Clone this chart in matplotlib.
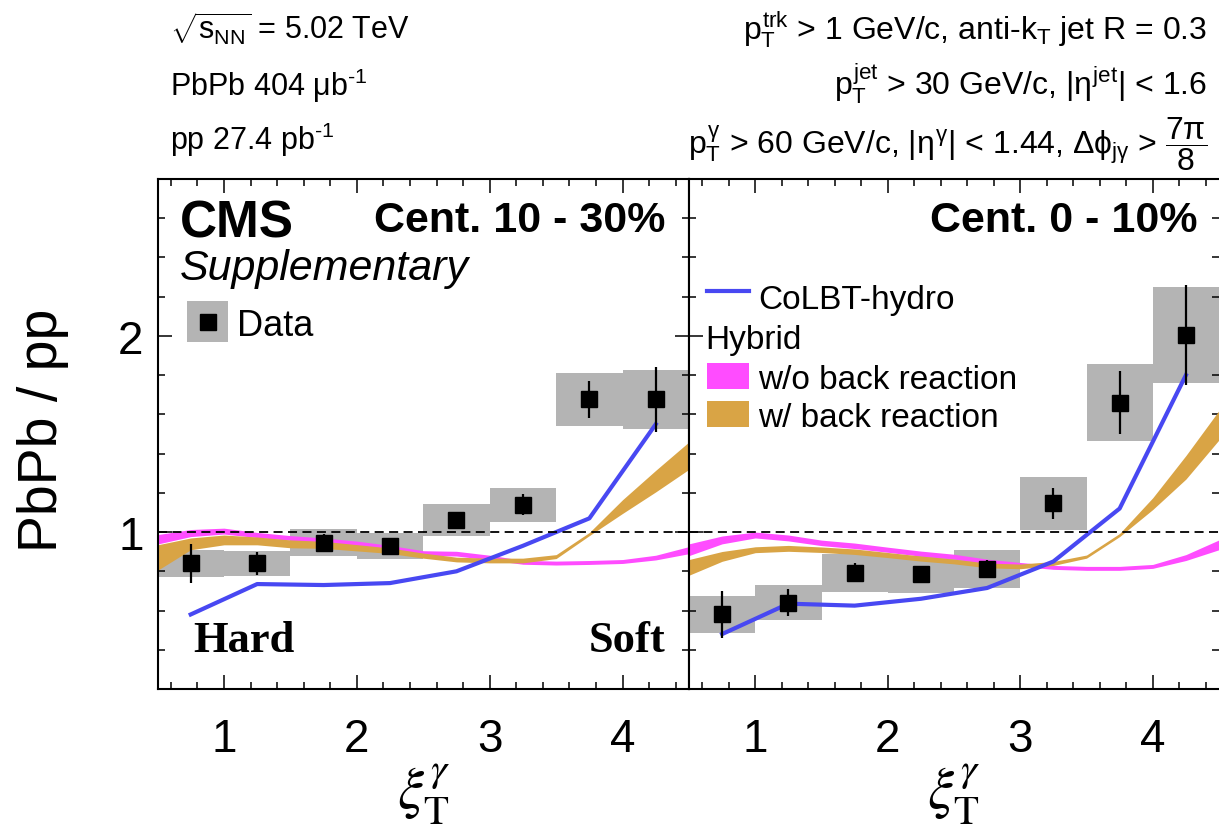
import matplotlib
matplotlib.use("Agg")
import matplotlib.pyplot as plt
from matplotlib.ticker import MultipleLocator
from matplotlib.patches import Rectangle

plt.rcParams['font.family'] = ['Liberation Sans', 'DejaVu Sans']
plt.rcParams['mathtext.fontset'] = 'custom'
plt.rcParams['mathtext.rm'] = 'Liberation Sans'
plt.rcParams['mathtext.it'] = 'Liberation Sans'
plt.rcParams['mathtext.bf'] = 'Liberation Sans:bold'

# bin centres of the measurement (bins are 0.5 wide)
xi_bins = [0.75, 1.25, 1.75, 2.25, 2.75, 3.25, 3.75, 4.25]

# Cent. 10-30%
data_1030 = [0.84, 0.84, 0.946, 0.929, 1.061, 1.139, 1.676, 1.676]
stat_1030 = [0.10, 0.06, 0.044, 0.03, 0.04, 0.053, 0.096, 0.165]
sys_1030 = [0.067, 0.066, 0.07, 0.064, 0.08, 0.088, 0.133, 0.15]
colbt_1030 = [0.58, 0.735, 0.73, 0.74, 0.80, 0.93, 1.07, 1.55]

# Cent. 0-10%
data_010 = [0.581, 0.640, 0.793, 0.784, 0.813, 1.146, 1.659, 2.005]
stat_010 = [0.119, 0.068, 0.049, 0.044, 0.047, 0.077, 0.16, 0.255]
sys_010 = [0.094, 0.089, 0.096, 0.094, 0.098, 0.136, 0.196, 0.245]
colbt_010 = [0.48, 0.635, 0.625, 0.66, 0.715, 0.85, 1.12, 1.80]

# Hybrid model bands (centre, half width)
xi_hyb = [0.5, 0.75, 1.0, 1.25, 1.5, 1.75, 2.0, 2.25, 2.5, 2.75, 3.0, 3.25, 3.5, 3.75, 4.0, 4.25, 4.5]
wo_1030 = [0.963, 0.995, 1.005, 0.985, 0.97, 0.958, 0.942, 0.92, 0.893, 0.89, 0.87, 0.846, 0.842, 0.845, 0.85, 0.87, 0.908]
wo_1030_w = [0.024, 0.018, 0.015, 0.013, 0.012, 0.012, 0.012, 0.012, 0.012, 0.012, 0.012, 0.01, 0.01, 0.01, 0.01, 0.012, 0.018]
w_1030 = [0.87, 0.94, 0.96, 0.955, 0.94, 0.935, 0.92, 0.905, 0.88, 0.86, 0.855, 0.855, 0.875, 0.99, 1.13, 1.26, 1.39]
w_1030_w = [0.065, 0.03, 0.025, 0.02, 0.02, 0.018, 0.016, 0.014, 0.013, 0.012, 0.012, 0.012, 0.01, 0.008, 0.035, 0.055, 0.07]

wo_010 = [0.91, 0.96, 0.985, 0.97, 0.945, 0.93, 0.91, 0.89, 0.875, 0.85, 0.835, 0.82, 0.815, 0.815, 0.825, 0.87, 0.935]
wo_010_w = [0.03, 0.02, 0.015, 0.015, 0.014, 0.014, 0.013, 0.013, 0.012, 0.012, 0.01, 0.01, 0.01, 0.01, 0.01, 0.015, 0.025]
w_010 = [0.82, 0.876, 0.91, 0.917, 0.91, 0.90, 0.883, 0.865, 0.85, 0.83, 0.825, 0.84, 0.875, 0.985, 1.145, 1.33, 1.545]
w_010_w = [0.04, 0.025, 0.015, 0.015, 0.014, 0.014, 0.013, 0.013, 0.012, 0.012, 0.012, 0.01, 0.008, 0.008, 0.03, 0.06, 0.075]

GRAY = '#b4b4b4'
BLUE = '#4848f2'
MAGENTA = '#ff4cff'
ORANGE = '#d9a445'

W, H = 1219, 828
fig = plt.figure(figsize=(W / 100, H / 100), dpi=100)

def fx(px):
    return px / W

def fy(py):
    return 1 - py / H

ax1 = fig.add_axes([fx(157.5), fy(690), (689 - 157.5) / W, 510 / H])
ax2 = fig.add_axes([fx(689), fy(690), (1219 - 689) / W, 510 / H])

def draw_panel(ax, data, stat, sys, colbt, wo, wo_w, w, w_w):
    # systematic boxes, model bands, CoLBT line, then data points on top
    ax.bar(xi_bins, [2 * s for s in sys], bottom=[d - s for d, s in zip(data, sys)],
           width=0.5, color=GRAY, lw=0, zorder=1)
    ax.fill_between(xi_hyb, [c - d for c, d in zip(wo, wo_w)], [c + d for c, d in zip(wo, wo_w)],
                    color=MAGENTA, lw=0, zorder=2)
    ax.fill_between(xi_hyb, [c - d for c, d in zip(w, w_w)], [c + d for c, d in zip(w, w_w)],
                    color=ORANGE, lw=0, zorder=2)
    ax.plot(xi_bins, colbt, color=BLUE, lw=3, zorder=3)
    ax.axhline(1, color='k', lw=1.3, ls=(0, (5, 3)), zorder=3)
    ax.errorbar(xi_bins, data, yerr=stat, fmt='s', color='k', ms=11, elinewidth=1.6,
                capsize=0, zorder=4)
    ax.set_xlim(0.5, 4.5)
    ax.set_ylim(0.2, 2.8)
    ax.xaxis.set_major_locator(MultipleLocator(1))
    ax.xaxis.set_minor_locator(MultipleLocator(0.2))
    ax.yaxis.set_major_locator(MultipleLocator(1))
    ax.yaxis.set_minor_locator(MultipleLocator(0.2))
    ax.tick_params(which='both', direction='in', top=True, right=True, width=1.1)
    ax.tick_params(which='major', length=10)
    ax.tick_params(which='minor', length=5)
    ax.tick_params(axis='x', labelsize=33, pad=20)
    ax.tick_params(axis='y', labelsize=33, pad=10)
    for s in ax.spines.values():
        s.set_linewidth(1.5)
    ax.set_xlabel(r'$\xi_{\mathrm{T}}^{\gamma}$', fontsize=42, math_fontfamily='stix', labelpad=0)

draw_panel(ax1, data_1030, stat_1030, sys_1030, colbt_1030, wo_1030, wo_1030_w, w_1030, w_1030_w)
draw_panel(ax2, data_010, stat_010, sys_010, colbt_010, wo_010, wo_010_w, w_010, w_010_w)
ax2.tick_params(axis='y', labelleft=False, right=False)
ax2.spines['right'].set_visible(False)

# panel texts
ax1.text((180 - 157.5) / 531.5, (690 - 237) / 510, 'CMS', transform=ax1.transAxes,
         fontsize=37, fontweight='bold', va='baseline')
ax1.text((180 - 157.5) / 531.5, (690 - 280) / 510, 'Supplementary', transform=ax1.transAxes,
         fontsize=31, style='italic', va='baseline')
ax1.text((665 - 157.5) / 531.5, (690 - 232) / 510, 'Cent. 10 - 30%', transform=ax1.transAxes,
         fontsize=31, fontweight='bold', va='baseline', ha='right')
ax2.text((1197 - 689) / 530, (690 - 232) / 510, 'Cent. 0 - 10%', transform=ax2.transAxes,
         fontsize=31, fontweight='bold', va='baseline', ha='right')
ax1.text((193 - 157.5) / 531.5, (690 - 652) / 510, 'Hard', transform=ax1.transAxes,
         fontsize=32, fontweight='bold', family='Liberation Serif', va='baseline')
ax1.text((665 - 157.5) / 531.5, (690 - 652) / 510, 'Soft', transform=ax1.transAxes,
         fontsize=32, fontweight='bold', family='Liberation Serif', va='baseline', ha='right')

# legend, left panel
ax1.add_patch(Rectangle((29.5 / 531.5, (690 - 343) / 510), 41 / 531.5, 41 / 510,
                        transform=ax1.transAxes, color=GRAY, lw=0, zorder=5))
ax1.plot([50 / 531.5], [(690 - 322.5) / 510], 's', color='k', ms=11, transform=ax1.transAxes, zorder=6)
ax1.text(80 / 531.5, (690 - 322.5) / 510, 'Data', transform=ax1.transAxes,
         fontsize=26, va='center_baseline')

# legend, right panel
ax2.plot([18 / 530, 60 / 530], [(690 - 292) / 510] * 2, color=BLUE, lw=3, transform=ax2.transAxes)
ax2.text(69 / 530, (690 - 297) / 510, 'CoLBT-hydro', transform=ax2.transAxes,
         fontsize=24, va='center_baseline')
ax2.text(16 / 530, (690 - 337) / 510, 'Hybrid', transform=ax2.transAxes,
         fontsize=24, va='center_baseline')
ax2.add_patch(Rectangle((18 / 530, (690 - 390) / 510), 42 / 530, 26 / 510,
                        transform=ax2.transAxes, color=MAGENTA, lw=0))
ax2.text(69 / 530, (690 - 377) / 510, 'w/o back reaction', transform=ax2.transAxes,
         fontsize=24, va='center_baseline')
ax2.add_patch(Rectangle((18 / 530, (690 - 428) / 510), 42 / 530, 26 / 510,
                        transform=ax2.transAxes, color=ORANGE, lw=0))
ax2.text(69 / 530, (690 - 415) / 510, 'w/ back reaction', transform=ax2.transAxes,
         fontsize=24, va='center_baseline')

# y axis title
fig.text(fx(43), fy(430), 'PbPb / pp', rotation=90, fontsize=40, ha='center', va='center')

# header texts
fig.text(fx(170), fy(40), r'$\sqrt{s_{NN}}$ = 5.02 TeV', fontsize=22, va='baseline')
fig.text(fx(170), fy(96), r'PbPb 404 μb$^{‐1}$', fontsize=22, va='baseline')
fig.text(fx(170), fy(150), r'pp 27.4 pb$^{‐1}$', fontsize=22, va='baseline')
fig.text(fx(1207), fy(40), r'$p_{T}^{trk}$ > 1 GeV/c, anti-k$_{T}$ jet R = 0.3',
         fontsize=23, va='baseline', ha='right')
fig.text(fx(1207), fy(96), r'$p_{T}^{jet}$ > 30 GeV/c, $|\eta^{jet}|$ < 1.6',
         fontsize=23, va='baseline', ha='right')
fig.text(fx(1207), fy(153),
         r'$p_{T}^{\gamma}$ > 60 GeV/c, |$\eta^{\gamma}$| < 1.44, $\Delta\phi_{j\gamma}$ > $\dfrac{7\pi}{8}$',
         fontsize=23, va='baseline', ha='right')

fig.savefig('out.png', dpi=100)
